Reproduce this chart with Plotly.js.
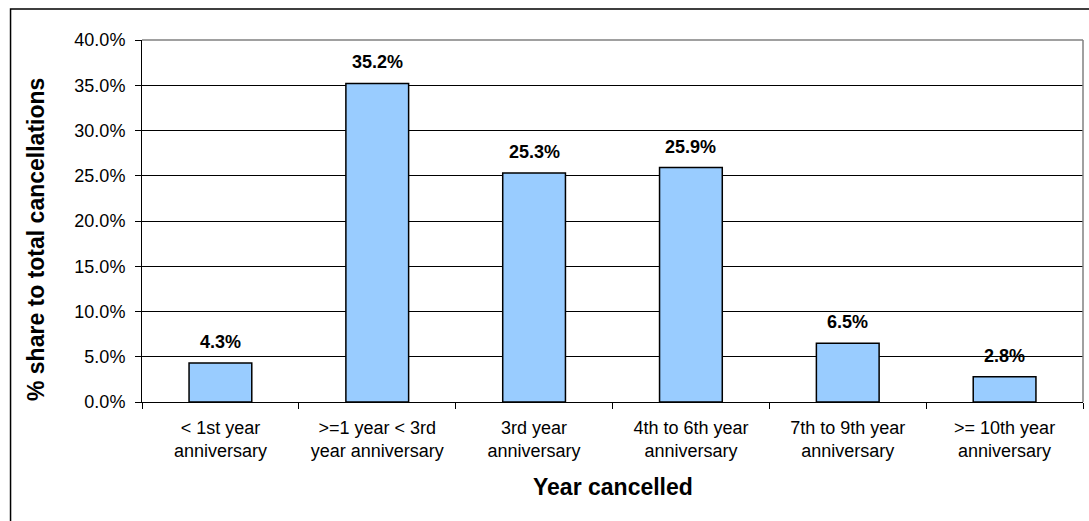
<!DOCTYPE html>
<html>
<head>
<meta charset="utf-8">
<script src="https://cdn.plot.ly/plotly-3.0.1.min.js"></script>
<style>
  html, body { margin: 0; padding: 0; background: #fff; }
  #chart { width: 1089px; height: 521px; }
</style>
</head>
<body>
<div id="chart"></div>
<script>
const categories = [
  "< 1st year<br>anniversary",
  ">=1 year < 3rd<br>year anniversary",
  "3rd year<br>anniversary",
  "4th to 6th year<br>anniversary",
  "7th to 9th year<br>anniversary",
  ">= 10th year<br>anniversary"
];
const shares = [4.3, 35.2, 25.3, 25.9, 6.5, 2.8];
const yTicks = [0, 5, 10, 15, 20, 25, 30, 35, 40];
const yTickLabels = yTicks.map(v => v.toFixed(1) + "%");
const xTitle = "Year cancelled";
const yTitle = "% share to total cancellations";

const font = "Liberation Sans, Arial, sans-serif";

const trace = {
  type: "bar",
  x: categories,
  y: shares,
  width: 0.4,
  marker: { color: "#99CCFF", line: { color: "#000000", width: 1.5 } },
  hoverinfo: "x+y"
};

const annotations = categories.map((c, i) => ({
  x: c, y: shares[i], xref: "x", yref: "y",
  text: "<b>" + shares[i].toFixed(1) + "%</b>",
  showarrow: false, yanchor: "bottom", yshift: 9,
  font: { family: font, size: 18, color: "#000" }
}));
annotations.push({
  x: 0.5, y: -0.2348, xref: "paper", yref: "paper",
  text: "<b>" + xTitle + "</b>", showarrow: false,
  xanchor: "center", yanchor: "middle",
  font: { family: font, size: 23, color: "#000" }
});
annotations.push({
  x: -0.1126, y: 0.4475, xref: "paper", yref: "paper",
  text: "<b>" + yTitle + "</b>", showarrow: false, textangle: -90,
  xanchor: "center", yanchor: "middle",
  font: { family: font, size: 23, color: "#000" }
});

const layout = {
  width: 1089, height: 521,
  margin: { l: 142, r: 6, t: 40, b: 119 },
  paper_bgcolor: "#ffffff", plot_bgcolor: "#ffffff",
  showlegend: false,
  bargap: 0.6,
  xaxis: {
    type: "category",
    tickfont: { family: font, size: 18, color: "#000" },
    ticks: "outside", ticklen: 6, tickcolor: "#000", tickwidth: 1,
    tickson: "boundaries",
    ticklabelstandoff: 9,
    showline: true, linecolor: "#000", linewidth: 1,
    showgrid: false, zeroline: false
  },
  yaxis: {
    range: [0, 40],
    tickvals: yTicks, ticktext: yTickLabels,
    tickfont: { family: font, size: 18, color: "#000" },
    ticks: "outside", ticklen: 6, tickcolor: "#000", tickwidth: 1,
    ticklabelstandoff: 6,
    showline: true, linecolor: "#000", linewidth: 1,
    showgrid: true, gridcolor: "#000", gridwidth: 1,
    zeroline: false
  },
  annotations: annotations,
  shapes: [
    { type: "line", xref: "paper", yref: "paper", x0: 0, x1: 1, y0: 1, y1: 1, line: { color: "#808080", width: 1.5 } },
    { type: "line", xref: "paper", yref: "paper", x0: 1, x1: 1, y0: 0, y1: 1, line: { color: "#808080", width: 1.5 } },
    { type: "rect", xref: "paper", yref: "paper", x0: -0.1397, x1: 1.2, y0: -0.5, y1: 1.0856, line: { color: "#000", width: 1.5 }, layer: "below" }
  ]
};

Plotly.newPlot("chart", [trace], layout, { displayModeBar: false, staticPlot: true });
</script>
</body>
</html>
